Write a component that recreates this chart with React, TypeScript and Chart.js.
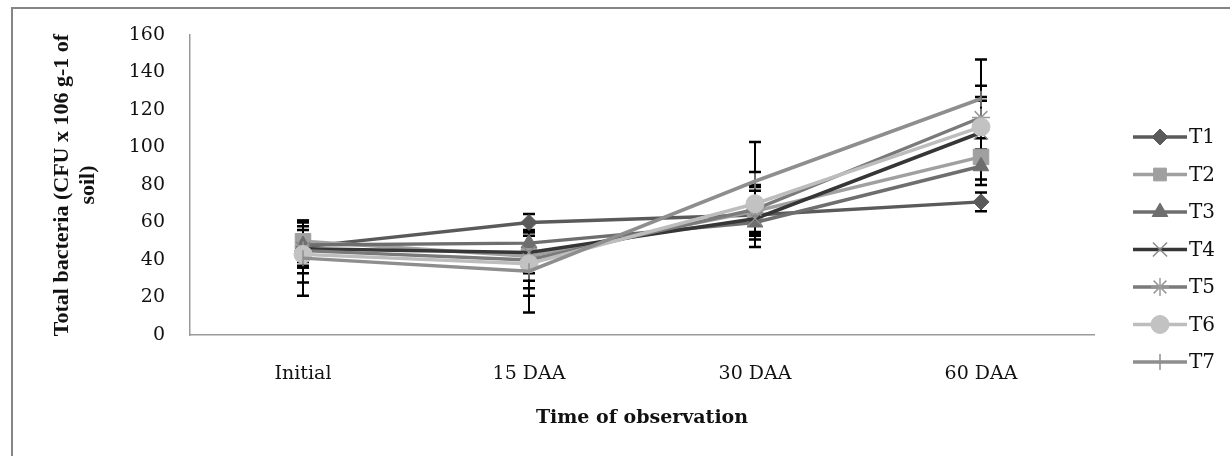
import React, { useEffect, useRef } from 'react';
import { Chart, registerables } from 'chart.js';
import { drawPoint } from 'chart.js/helpers';

Chart.register(...registerables);

const categories = ['Initial', '15 DAA', '30 DAA', '60 DAA'];
const seriesNames = ['T1', 'T2', 'T3', 'T4', 'T5', 'T6', 'T7'];

const t1 = [47, 60, 64, 71];
const t2 = [50, 42, 66, 95];
const t3 = [48, 49, 60, 90];
const t4 = [46, 44, 62, 108];
const t5 = [45, 40, 67, 116];
const t6 = [43, 38, 70, 111];
const t7 = [41, 34, 82, 126];

const t1Err = [14, 4.5, 9, 5];
const t2Err = [11, 13, 13, 15];
const t3Err = [12, 4, 9, 7];
const t4Err = [10, 11, 15, 19];
const t5Err = [8, 15, 13, 17];
const t6Err = [15, 17, 17, 14];
const t7Err = [20, 22, 21, 21];

const yMin = 0;
const yMax = 160;
const yStep = 20;

const seriesValues = [t1, t2, t3, t4, t5, t6, t7];
const seriesErrors = [t1Err, t2Err, t3Err, t4Err, t5Err, t6Err, t7Err];

const lineColors = ['#5a5a5a', '#a0a0a0', '#6e6e6e', '#363636', '#7a7a7a', '#bdbdbd', '#8e8e8e'];
const markerColors = ['#5a5a5a', '#a0a0a0', '#6e6e6e', '#8a8a8a', '#9a9a9a', '#c2c2c2', '#8e8e8e'];
const pointStyles = ['rectRot', 'rect', 'triangle', 'crossRot', 'star', 'circle', 'line'];
const pointRadii = [8, 11, 9, 10, 9, 9, 8];
const pointRotations = [0, 0, 0, 0, 0, 0, 90];

const TICK_FONT = '"DejaVu Serif", serif';

export default function App() {
  const ref = useRef<HTMLCanvasElement>(null);

  useEffect(() => {
    document.body.style.margin = '0';
    const canvas = ref.current;
    if (!canvas) return;

    const framePlugin = {
      id: 'frame',
      beforeDraw(chart: any) {
        const ctx = chart.ctx;
        ctx.save();
        ctx.fillStyle = '#ffffff';
        ctx.fillRect(0, 0, chart.width, chart.height);
        ctx.fillStyle = '#858585';
        ctx.fillRect(11, 7, 2, chart.height);
        ctx.fillRect(11, 7, chart.width, 2);
        ctx.restore();
      },
    };

    const errorBarPlugin = {
      id: 'errorBars',
      beforeDatasetsDraw(chart: any) {
        const ctx = chart.ctx;
        const yScale = chart.scales.y;
        ctx.save();
        ctx.strokeStyle = '#000000';
        chart.data.datasets.forEach((ds: any, di: number) => {
          const meta = chart.getDatasetMeta(di);
          const errs = seriesErrors[di];
          meta.data.forEach((pt: any, i: number) => {
            const v = ds.data[i];
            const e = errs[i];
            const x = pt.x;
            const yTop = yScale.getPixelForValue(v + e);
            const yBot = yScale.getPixelForValue(v - e);
            ctx.lineWidth = 2;
            ctx.beginPath();
            ctx.moveTo(x, yTop);
            ctx.lineTo(x, yBot);
            ctx.stroke();
            ctx.lineWidth = 2.5;
            ctx.beginPath();
            ctx.moveTo(x - 6, yTop);
            ctx.lineTo(x + 6, yTop);
            ctx.moveTo(x - 6, yBot);
            ctx.lineTo(x + 6, yBot);
            ctx.stroke();
          });
        });
        ctx.restore();
      },
    };

    const legendPlugin = {
      id: 'sideLegend',
      afterDraw(chart: any) {
        const ctx = chart.ctx;
        ctx.save();
        chart.data.datasets.forEach((ds: any, i: number) => {
          const y = 137 + i * 37.5;
          ctx.strokeStyle = ds.borderColor;
          ctx.lineWidth = 3.5;
          ctx.beginPath();
          ctx.moveTo(1133, y);
          ctx.lineTo(1187, y);
          ctx.stroke();
          ctx.fillStyle = ds.pointBackgroundColor;
          ctx.strokeStyle = ds.pointBorderColor;
          ctx.lineWidth = ds.pointBorderWidth;
          drawPoint(ctx, {
            pointStyle: ds.pointStyle,
            rotation: ds.pointRotation,
            radius: ds.pointStyle === 'rect' ? 9 : ds.pointRadius,
            borderWidth: ds.pointBorderWidth,
          }, 1160, y);
          ctx.fillStyle = '#111111';
          ctx.font = '20px ' + TICK_FONT;
          ctx.textAlign = 'left';
          ctx.textBaseline = 'middle';
          ctx.fillText(ds.label, 1189, y + 1);
        });
        ctx.restore();
      },
    };

    const datasets = seriesNames.map((name, i) => ({
      label: name,
      data: seriesValues[i],
      borderColor: lineColors[i],
      backgroundColor: markerColors[i],
      borderWidth: 3.5,
      tension: 0,
      pointStyle: pointStyles[i],
      pointRadius: pointRadii[i],
      pointRotation: pointRotations[i],
      pointBackgroundColor: markerColors[i],
      pointBorderColor: markerColors[i],
      pointBorderWidth: pointStyles[i] === 'crossRot' || pointStyles[i] === 'star' || pointStyles[i] === 'line' ? 1.5 : 1,
      order: 7 - i,
    }));

    const chart = new Chart(canvas, {
      type: 'line',
      data: { labels: categories, datasets },
      options: {
        animation: false,
        responsive: true,
        maintainAspectRatio: false,
        layout: { padding: { left: 0, right: 136, top: 35, bottom: 0 } },
        plugins: {
          legend: { display: false },
          tooltip: { enabled: false },
        },
        scales: {
          x: {
            type: 'category',
            offset: true,
            grid: { display: false },
            border: { display: true, color: '#9a9a9a', width: 1.5 },
            ticks: {
              color: '#111111',
              font: { family: TICK_FONT, size: 19 },
              padding: 20,
              maxRotation: 0,
            },
            title: {
              display: true,
              text: 'Time of observation',
              color: '#111111',
              font: { family: TICK_FONT, size: 19, weight: 'bold' },
              padding: { top: 0, bottom: 27 },
            },
            afterFit: (s: any) => { s.height = 121; },
          },
          y: {
            min: yMin,
            max: yMax,
            grid: { display: false },
            border: { display: true, color: '#9a9a9a', width: 1.5 },
            ticks: {
              stepSize: yStep,
              color: '#111111',
              font: { family: TICK_FONT, size: 19 },
              padding: 17,
            },
            title: {
              display: true,
              text: ['Total bacteria (CFU x 106 g-1 of', 'soil)'],
              color: '#111111',
              font: { family: '"Liberation Serif", serif', size: 22, weight: 'bold', lineHeight: 1.18 },
              padding: { top: 49, bottom: 0 },
            },
            afterFit: (s: any) => { s.width = 190; },
          },
        },
      },
      plugins: [framePlugin, errorBarPlugin, legendPlugin],
    } as any);

    return () => chart.destroy();
  }, []);

  return (
    <div style={{ width: 1230, height: 456, position: 'relative' }}>
      <canvas ref={ref} />
    </div>
  );
}
